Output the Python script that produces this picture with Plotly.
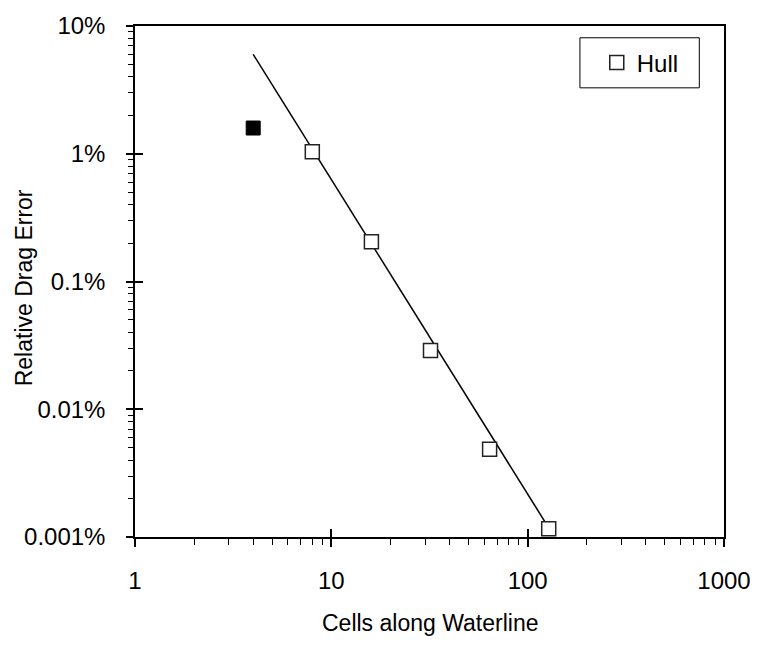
import plotly.graph_objects as go

# Data (relative drag error in percent)
cells_open = [8, 16, 32, 64, 128]
err_open = [1.035, 0.205, 0.0288, 0.00486, 0.00116]
cells_filled = [4]
err_filled = [1.59]
fit_x = [4, 128]
fit_y = [6.0, 0.00118]

x_major = [1, 10, 100, 1000]
x_major_text = ["1", "10", "100", "1000"]
y_major = [0.001, 0.01, 0.1, 1, 10]
y_major_text = ["0.001%", "0.01%", "0.1%", "1%", "10%"]

x_minor = [m * d for d in (1, 10, 100) for m in range(2, 10)]
y_minor = [m * d for d in (0.001, 0.01, 0.1, 1) for m in range(2, 10)]

FONT = "Liberation Sans, Arial, sans-serif"

fig = go.Figure()
fig.add_trace(go.Scatter(x=fit_x, y=fit_y, mode="lines",
                         line=dict(color="black", width=1.5), showlegend=False,
                         hoverinfo="skip"))
fig.add_trace(go.Scatter(x=cells_filled, y=err_filled, mode="markers",
                         marker=dict(symbol="square", size=14, color="black",
                                     line=dict(color="black", width=1)),
                         showlegend=False))
fig.add_trace(go.Scatter(x=cells_open, y=err_open, mode="markers", name="Hull",
                         marker=dict(symbol="square", size=14, color="white",
                                     line=dict(color="#222222", width=1.5))))
# dummy traces to activate overlay axes used for inner half of major ticks
fig.add_trace(go.Scatter(x=[None], y=[None], xaxis="x2", yaxis="y",
                         showlegend=False, hoverinfo="skip"))
fig.add_trace(go.Scatter(x=[None], y=[None], xaxis="x", yaxis="y2",
                         showlegend=False, hoverinfo="skip"))

fig.update_layout(
    width=763, height=648,
    margin=dict(l=135, r=31, t=16, b=111),
    paper_bgcolor="white", plot_bgcolor="white",
    font=dict(family=FONT, size=24, color="black"),
    showlegend=True,
    legend=dict(x=0.784, y=0.928, xanchor="left", yanchor="middle",
                borderwidth=0, bgcolor="rgba(0,0,0,0)",
                font=dict(size=24)),
    shapes=[dict(type="rect", xref="paper", yref="paper",
                 x0=0.7554, x1=0.9581, y0=0.879, y1=0.977,
                 line=dict(color="black", width=1), fillcolor="white",
                 layer="below")],
    annotations=[
        dict(text="Cells along Waterline", xref="paper", yref="paper",
             x=0.5, y=-0.168, xanchor="center", yanchor="middle",
             showarrow=False, font=dict(size=23)),
        dict(text="Relative Drag Error", xref="paper", yref="paper",
             x=-0.189, y=0.488, xanchor="center", yanchor="middle",
             textangle=-90, showarrow=False, font=dict(size=23)),
    ],
    xaxis=dict(type="log", range=[0, 3], tickmode="array", tickvals=x_major,
               ticktext=x_major_text, ticks="outside", ticklen=8, tickwidth=1.5,
               tickcolor="black", showline=True, linecolor="black", linewidth=1.5,
               mirror=True, showgrid=False, zeroline=False,
               ticklabelstandoff=13,
               minor=dict(tickmode="array", tickvals=x_minor, ticks="outside",
                          ticklen=6, tickwidth=1, tickcolor="black", showgrid=False)),
    xaxis2=dict(type="log", range=[0, 3], overlaying="x", anchor="y", side="bottom",
                tickmode="array", tickvals=x_major, ticks="inside", ticklen=8,
                tickwidth=1.5, tickcolor="black", showticklabels=False,
                showline=False, showgrid=False, zeroline=False),
    yaxis=dict(type="log", range=[-3, 1], tickmode="array", tickvals=y_major,
               ticktext=y_major_text, ticks="outside", ticklen=7, tickwidth=1.5,
               tickcolor="black", showline=True, linecolor="black", linewidth=1.5,
               mirror=True, showgrid=False, zeroline=False,
               ticklabelstandoff=16,
               minor=dict(tickmode="array", tickvals=y_minor, ticks="outside",
                          ticklen=5, tickwidth=1, tickcolor="black", showgrid=False)),
    yaxis2=dict(type="log", range=[-3, 1], overlaying="y", anchor="x", side="left",
                tickmode="array", tickvals=y_major, ticks="inside", ticklen=8,
                tickwidth=1.5, tickcolor="black", showticklabels=False,
                showline=False, showgrid=False, zeroline=False),
)

fig.write_html("out.html")
